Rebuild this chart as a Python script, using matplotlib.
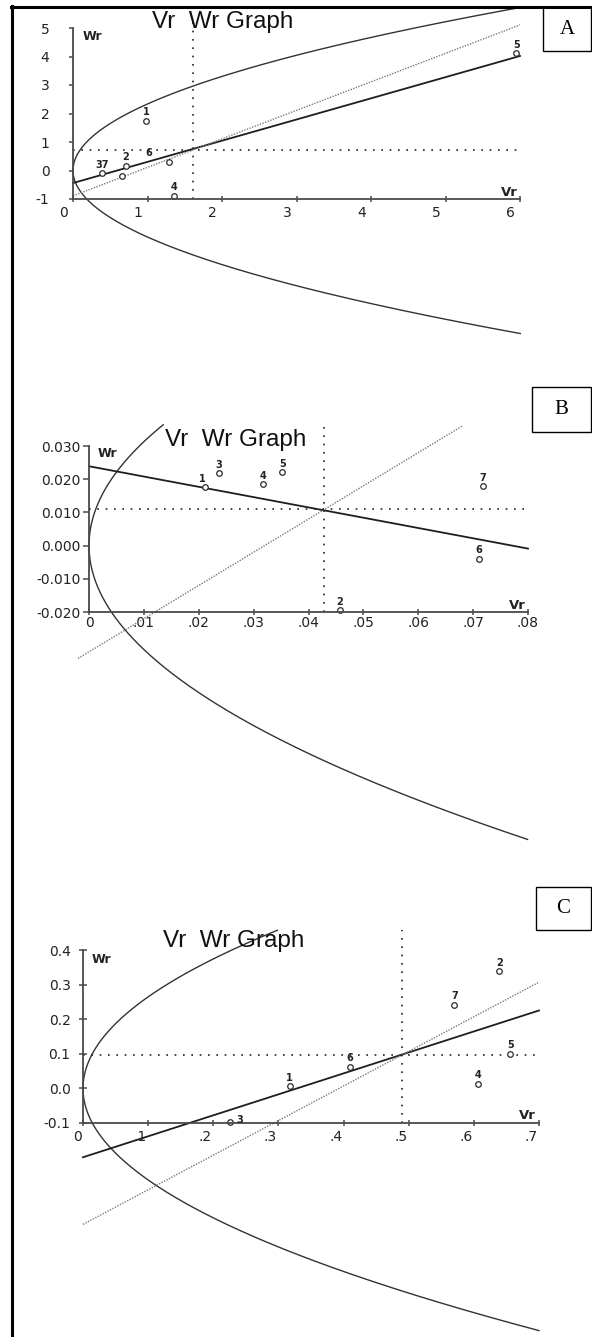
import matplotlib
matplotlib.use("Agg")
import matplotlib.pyplot as plt
import matplotlib.transforms as mtrans
from matplotlib.patches import Rectangle
from matplotlib.lines import Line2D
import numpy as np

W, H = 592, 1337

# ---- panel A ----
a_vr = [0.98, 0.71, 0.39, 1.35, 5.95, 1.29, 0.66]
a_wr = [1.74, 0.16, -0.09, -0.89, 4.12, 0.30, -0.19]
a_lab = ["1", "2", "37", "4", "5", "6", ""]
a_vp = 5.45                  # limiting parabola Wr^2 = Vp * Vr
a_par = (-5.72, 5.72)        # Wr range drawn for the parabola
a_reg = (-0.44, 0.743)       # regression line intercept, slope
a_unit = -0.89               # unit slope line intercept
a_unit_x = (0, 6)
a_mean = (1.61, 0.72)
a_vtop = 5.2
a_xticks = [0, 1, 2, 3, 4, 5, 6]
a_xlabels = ["0", "1", "2", "3", "4", "5", "6"]
a_yticks = [-1, 0, 1, 2, 3, 4, 5]
a_ylabels = ["-1", "0", "1", "2", "3", "4", "5"]

# ---- panel B ----
b_vr = [0.0211, 0.0457, 0.0236, 0.0317, 0.0352, 0.0711, 0.0718]
b_wr = [0.0176, -0.0194, 0.0218, 0.0185, 0.0221, -0.0039, 0.0179]
b_lab = ["1", "2", "3", "4", "5", "6", "7"]
b_vp = 0.098
b_par = (-0.0885, 0.0364)
b_reg = (0.0239, -0.31)
b_unit = -0.032
b_unit_x = (-0.002, 0.068)
b_mean = (0.0428, 0.0109)
b_vtop = 0.0358
b_xticks = [0, 0.01, 0.02, 0.03, 0.04, 0.05, 0.06, 0.07, 0.08]
b_xlabels = ["0", ".01", ".02", ".03", ".04", ".05", ".06", ".07", ".08"]
b_yticks = [-0.02, -0.01, 0.0, 0.01, 0.02, 0.03]
b_ylabels = ["-0.020", "-0.010", "0.000", "0.010", "0.020", "0.030"]

# ---- panel C ----
c_vr = [0.317, 0.639, 0.226, 0.607, 0.656, 0.41, 0.57]
c_wr = [0.007, 0.338, -0.097, 0.013, 0.100, 0.062, 0.242]
c_lab = ["1", "2", "3", "4", "5", "6", "7"]
c_vp = 0.70
c_par = (-0.70, 0.457)
c_reg = (-0.199, 0.606)
c_unit = -0.393
c_unit_x = (0, 0.7)
c_mean = (0.49, 0.097)
c_vtop = 0.459
c_xticks = [0, 0.1, 0.2, 0.3, 0.4, 0.5, 0.6, 0.7]
c_xlabels = ["0", ".1", ".2", ".3", ".4", ".5", ".6", ".7"]
c_yticks = [-0.1, 0.0, 0.1, 0.2, 0.3, 0.4]
c_ylabels = ["-0.1", "0.0", "0.1", "0.2", "0.3", "0.4"]

fig = plt.figure(figsize=(W / 100, H / 100), dpi=100)
fig.patch.set_facecolor("white")


def fx(px):
    return px / W


def fy(py):
    return 1 - py / H


def make_panel(box, xlim, ylim, vr, wr, lab, vp, par, reg, unit, unit_x, mean, vtop,
               xticks, xlabels, yticks, ylabels, ypad, xpad, xha, xdx, tdir, tlen,
               lab_off):
    x0, x1, yt, yb = box
    ax = fig.add_axes([fx(x0), fy(yb), (x1 - x0) / W, (yb - yt) / H])
    ax.set_xlim(*xlim)
    ax.set_ylim(*ylim)
    ax.patch.set_alpha(0)
    for s in ["top", "right"]:
        ax.spines[s].set_visible(False)
    for s in ["left", "bottom"]:
        ax.spines[s].set_color("#4a4a4a")
        ax.spines[s].set_linewidth(1.3)
    ax.set_xticks(xticks)
    ax.set_xticklabels(xlabels)
    ax.set_yticks(yticks)
    ax.set_yticklabels(ylabels)
    ax.tick_params(axis="y", direction=tdir, length=tlen, width=1.1, color="#4a4a4a",
                   pad=ypad, labelsize=10, labelcolor="#222222")
    ax.tick_params(axis="x", direction="inout", length=5, width=1.1, color="#4a4a4a",
                   pad=xpad, labelsize=10, labelcolor="#222222")
    for t in ax.get_xticklabels():
        t.set_ha(xha)
        t.set_transform(t.get_transform() +
                        mtrans.ScaledTranslation(xdx / 72, 0, fig.dpi_scale_trans))

    # limiting parabola
    w = np.linspace(par[0], par[1], 400)
    ax.plot(w ** 2 / vp, w, color="#333333", lw=1.0, clip_on=False)
    # regression line
    xr = np.array(xlim)
    ax.plot(xr, reg[0] + reg[1] * xr, color="#1e1e1e", lw=1.3, clip_on=False)
    # unit slope line
    xu = np.array(unit_x)
    ax.plot(xu, xu + unit, color="#7a7a7a", lw=1.0, ls=(0, (1, 1)), clip_on=False)
    # mean cross lines
    ax.plot([mean[0], mean[0]], [ylim[0], vtop], color="#222222", lw=1.2,
            ls=(0, (1, 4)), clip_on=False)
    ax.plot([xlim[0], xlim[1]], [mean[1], mean[1]], color="#222222", lw=1.2,
            ls=(0, (1, 4)), clip_on=False)
    # points
    ax.plot(vr, wr, "o", ms=4, mfc="white", mec="#2a2a2a", mew=0.9, clip_on=False)
    for i, (x, y, s) in enumerate(zip(vr, wr, lab)):
        off = lab_off.get(i, (0, 2.5))
        ax.annotate(s, (x, y), xytext=off, textcoords="offset points",
                    ha="center", va="bottom", fontsize=7, fontweight="bold",
                    color="#222222")
    return ax


make_panel((73, 520, 28, 199), (0, 6), (-1, 5), a_vr, a_wr, a_lab, a_vp, a_par,
           a_reg, a_unit, a_unit_x, a_mean, a_vtop, a_xticks, a_xlabels, a_yticks,
           a_ylabels, ypad=14, xpad=2.5, xha="right", xdx=-3.5, tdir="out", tlen=3,
           lab_off={5: (-15, 2.5)})
make_panel((89, 528, 446, 612), (0, 0.08), (-0.02, 0.03), b_vr, b_wr, b_lab, b_vp,
           b_par, b_reg, b_unit, b_unit_x, b_mean, b_vtop, b_xticks, b_xlabels,
           b_yticks, b_ylabels, ypad=2, xpad=0.5, xha="center", xdx=0, tdir="out",
           tlen=4, lab_off={0: (-2, 2.5)})
make_panel((83, 539, 950, 1123), (0, 0.7), (-0.1, 0.4), c_vr, c_wr, c_lab, c_vp,
           c_par, c_reg, c_unit, c_unit_x, c_mean, c_vtop, c_xticks, c_xlabels,
           c_yticks, c_ylabels, ypad=6, xpad=2.5, xha="right", xdx=-1, tdir="inout",
           tlen=6, lab_off={2: (7, -2)})

# titles and axis names
for x, y in [(152, 28), (165, 446), (163, 947)]:
    fig.text(fx(x), fy(y), "Vr  Wr Graph", fontsize=17.5, family="Liberation Sans",
             color="#111111", va="baseline", ha="left")
for x, y in [(83, 40), (98, 457), (92, 963)]:
    fig.text(fx(x), fy(y), "Wr", fontsize=9, fontweight="bold", color="#222222",
             va="baseline", ha="left")
for x, y in [(518, 196), (526, 609), (536, 1119)]:
    fig.text(fx(x), fy(y), "Vr", fontsize=9.5, fontweight="bold", color="#222222",
             va="baseline", ha="right")

# panel letter boxes
for letter, (x0, x1, yt, yb) in [("A", (543, 591, 7, 51)), ("B", (532, 591, 387, 432)),
                                  ("C", (536, 591, 887, 930))]:
    fig.add_artist(Rectangle((fx(x0), fy(yb)), (x1 - x0) / W, (yb - yt) / H,
                             transform=fig.transFigure, facecolor="white",
                             edgecolor="black", lw=1.0))
    fig.text(fx((x0 + x1) / 2), fy((yt + yb) / 2), letter, fontsize=15,
             family="Liberation Serif", ha="center", va="center")

# outer frame (left and top)
fig.add_artist(Line2D([fx(12), fx(12)], [0, fy(6)], color="black", lw=2.2))
fig.add_artist(Line2D([fx(11), 1], [fy(7), fy(7)], color="black", lw=2.2))

fig.savefig("out.png", dpi=100, facecolor="white")
